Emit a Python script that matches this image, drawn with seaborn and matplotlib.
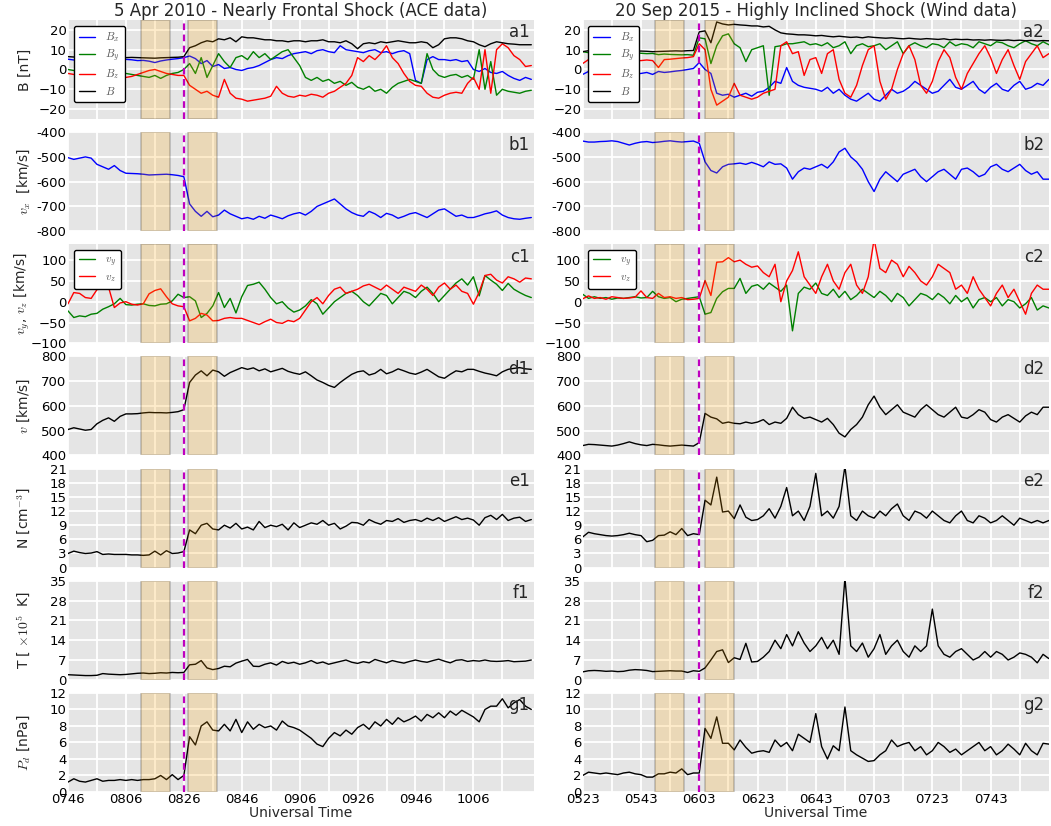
import numpy as np
import pandas as pd
import matplotlib
matplotlib.use('Agg')
import matplotlib.pyplot as plt
import seaborn as sns

# minutes after the start of each window (2-min samples)
minutes = np.arange(0, 161, 2)

left_ticklabels = ['0746', '0806', '0826', '0846', '0906', '0926', '0946', '1006']
right_ticklabels = ['0523', '0543', '0603', '0623', '0643', '0703', '0723', '0743']

# ---------------- 5 Apr 2010 (ACE) ----------------
bx_L = [5.2, 4.8, 5.0, 5.3, 5.1, 4.9, 5.0, 5.2, 5.0, 4.8,
        5.1, 4.9, 4.5, 4.6, 4.2, 3.5, 4.3, 4.8, 5.2, 5.5,
        6.0, 6.8, 5.5, 3.0, 4.5, 1.5, 2.5, 0.5, 1.0, 0.0,
        -0.5, 0.5, 1.0, 2.0, 3.5, 5.0, 6.0, 5.5, 7.0, 8.0,
        8.5, 9.0, 8.0, 9.5, 10.0, 9.0, 8.5, 12.0, 10.0, 9.5,
        9.0, 8.5, 9.5, 10.0, 8.5, 9.0, 8.0, 9.0, 9.5, 8.0,
        -5.5, -7.0, 5.0, 6.5, 5.0, 5.0, 4.5, 5.0, 4.0, 4.5,
        0.0, -1.0, 0.5, -1.5, -2.0, -1.0, -3.0, -4.5, -5.5, -4.0,
        -5.0]
by_L = [0.0, -0.5, -1.0, -1.5, -1.0, -2.0, -1.5, -2.0, -2.0, -2.5,
        -2.0, -2.5, -3.0, -3.5, -4.0, -3.0, -4.5, -3.0, -2.0, -1.5,
        0.0, 3.0, -2.0, 6.0, -4.0, 2.0, 8.0, 4.0, 1.0, 6.0,
        7.0, 5.0, 9.0, 6.0, 8.0, 5.0, 7.0, 9.0, 10.0, 6.0,
        2.0, -4.0, -5.5, -4.0, -6.0, -5.0, -7.0, -6.0, -8.0, -6.5,
        -9.0, -10.0, -8.5, -11.0, -10.0, -12.0, -9.0, -7.0, -6.0, -5.0,
        -6.0, -7.0, 8.0, 0.0, -3.0, -4.0, -3.0, -2.5, -4.0, -3.0,
        -5.0, 10.0, -10.0, 4.0, -13.0, -10.0, -11.0, -11.5, -12.0, -11.0,
        -10.5]
bz_L = [-2.0, -2.5, -3.0, -3.0, -3.5, -3.0, -3.5, -4.0, -3.5, -4.0,
        -4.0, -3.5, -2.5, -1.5, -0.5, 0.0, -1.0, -2.0, -2.5, -3.0,
        -3.0, -8.0, -10.0, -12.0, -11.0, -13.0, -14.0, -5.0, -12.0, -14.5,
        -15.0, -16.0, -15.5, -15.0, -14.5, -13.5, -8.5, -12.0, -13.5, -14.0,
        -13.0, -13.5, -12.5, -13.0, -14.0, -12.0, -11.0, -9.0, -7.0, -3.0,
        6.0, 4.0, 7.0, 5.0, 8.0, 12.0, 6.0, 3.0, -2.0, -6.0,
        -8.0, -8.5, -12.0, -14.0, -14.5, -13.0, -12.0, -11.5, -12.0, -7.0,
        -4.0, -10.0, 10.0, -12.0, 10.0, 13.0, 11.0, 7.0, 5.0, 1.5,
        2.0]
b_L = [6.5, 6.3, 6.4, 6.2, 6.3, 6.1, 6.2, 6.0, 6.1, 6.2,
       6.0, 6.1, 6.0, 5.9, 5.8, 5.7, 5.9, 6.0, 6.1, 6.2,
       6.5, 11.0, 12.0, 13.5, 14.5, 14.0, 15.5, 15.0, 16.0, 14.0,
       16.5, 16.0, 16.0, 15.5, 15.0, 15.0, 14.5, 14.5, 14.0, 14.5,
       14.5, 14.0, 14.5, 14.5, 15.0, 14.0, 14.0, 13.5, 14.5, 13.0,
       10.5, 13.0, 13.5, 13.0, 14.0, 13.5, 14.0, 14.5, 14.0, 13.5,
       13.5, 14.0, 13.5, 11.0, 12.5, 15.5, 16.0, 16.0, 15.5, 14.5,
       14.0, 12.5, 11.5, 13.0, 14.0, 13.5, 13.0, 12.8, 12.5, 12.5,
       12.5]

vx_L = [-503, -510, -505, -500, -505, -530, -540, -550, -535, -555,
        -566, -567, -568, -570, -573, -572, -571, -570, -572, -575,
        -580, -690, -720, -740, -720, -742, -735, -715, -730, -740,
        -750, -745, -752, -740, -748, -735, -742, -750, -738, -730,
        -725, -735, -720, -700, -690, -680, -670, -690, -710, -725,
        -735, -740, -720, -730, -745, -728, -735, -748, -740, -730,
        -725, -735, -745, -730, -715, -710, -725, -740, -735, -745,
        -745, -738, -730, -725, -718, -735, -745, -750, -752, -748,
        -745]
vy_L = [-22, -38, -34, -36, -30, -28, -18, -12, -5, 8,
        -7, -8, -6, -5, -9, -10, -6, -5, 2, 18,
        10, 12, 2, -38, -28, -10, 22, -14, 8, -27,
        12, 39, 42, 47, 30, 10, -5, 0, -15, -25,
        -20, -10, 5, -5, -30, -15, 0, 10, 20, 25,
        15, 0, -10, 5, 20, 15, -5, 10, 25, 20,
        10, 25, 35, 20, 0, 15, 30, 45, 55, 40,
        60, 14, 63, 52, 42, 27, 44, 30, 22, 15,
        10]
vz_L = [-5, 22, 20, 10, 8, 29, 32, 35, -14, -3,
        0, -6, -8, -5, 19, 27, 31, 12, -5, -10,
        -12, -46, -40, -28, -32, -46, -45, -40, -38, -40,
        -40, -45, -50, -55, -48, -42, -50, -52, -45, -48,
        -40, -20, 0, 10, -5, 15, 30, 35, 20, 25,
        30, 38, 42, 35, 28, 40, 30, 20, 35, 30,
        25, 40, 30, 15, 35, 45, 30, 40, 25, 20,
        -6, 23, 63, 66, 52, 45, 60, 55, 47, 57,
        55]
v_L = [505, 512, 507, 502, 505, 528, 542, 552, 538, 558,
       568, 568, 569, 572, 574, 573, 573, 572, 574, 577,
       585, 695, 725, 742, 722, 745, 738, 720, 735, 745,
       755, 748, 754, 742, 750, 738, 745, 752, 740, 733,
       728, 738, 722, 705, 695, 683, 675, 695, 712, 728,
       738, 742, 725, 732, 748, 730, 738, 750, 742, 733,
       728, 737, 748, 733, 718, 712, 728, 742, 738, 748,
       748, 740, 733, 728, 722, 738, 748, 752, 755, 750,
       748]
n_L = [3.0, 3.5, 3.2, 3.0, 3.1, 3.4, 2.8, 2.9, 2.8, 2.8,
       2.8, 2.7, 2.7, 2.6, 2.7, 3.5, 2.7, 3.6, 3.0, 3.1,
       3.4, 8.0, 7.2, 9.0, 9.4, 8.2, 8.0, 9.0, 8.4, 9.4,
       8.2, 8.6, 8.0, 9.8, 8.5, 9.0, 8.7, 9.2, 8.0, 9.5,
       8.5, 9.0, 9.5, 9.2, 10.0, 9.0, 9.4, 8.2, 8.8, 9.6,
       9.5, 9.0, 10.2, 9.6, 9.2, 10.0, 9.8, 10.4, 9.6, 10.0,
       10.2, 9.8, 10.5, 10.0, 10.6, 9.8, 10.3, 10.8, 10.2, 10.5,
       10.1, 9.0, 10.6, 11.1, 10.2, 11.3, 10.0, 10.5, 10.7, 9.8,
       10.2]
temp_L = [1.8, 1.7, 1.6, 1.5, 1.5, 1.6, 2.2, 2.0, 1.9, 1.8,
          1.9, 2.1, 2.3, 2.4, 2.2, 2.3, 2.5, 2.4, 2.6, 2.5,
          2.6, 5.3, 5.5, 6.8, 4.2, 3.6, 4.0, 4.8, 4.6, 5.9,
          6.6, 7.2, 4.8, 4.7, 5.5, 6.0, 5.2, 6.5, 5.8, 6.2,
          5.5, 6.0, 6.8, 5.8, 6.3, 5.5, 6.0, 6.5, 7.0, 6.2,
          5.8, 6.4, 6.0, 7.2, 6.6, 6.0, 6.8, 6.3, 5.9, 6.5,
          7.0, 6.5, 6.2, 6.8, 7.3, 6.6, 6.0, 6.9, 7.1, 6.5,
          6.8, 6.6, 7.0, 6.6, 6.5, 6.6, 6.8, 6.4, 6.5, 6.6,
          7.0]
pd_L = [1.2, 1.6, 1.3, 1.2, 1.4, 1.6, 1.3, 1.4, 1.4, 1.5,
        1.4, 1.5, 1.4, 1.5, 1.5, 1.6, 2.0, 1.5, 2.1, 1.5,
        2.0, 6.7, 5.7, 8.0, 8.5, 7.5, 7.4, 8.2, 7.4, 8.8,
        7.2, 8.5, 7.6, 8.2, 7.8, 8.0, 7.5, 8.6, 8.0, 7.8,
        7.5, 7.0, 6.5, 5.8, 5.5, 6.5, 7.2, 6.8, 7.5, 7.0,
        7.8, 8.2, 7.6, 8.5, 8.0, 8.8, 8.2, 9.0, 8.5, 8.8,
        9.2, 8.6, 9.4, 9.0, 9.6, 9.0, 9.8, 9.3, 9.9, 9.5,
        9.1, 8.5, 10.0, 10.4, 10.4, 11.3, 10.2, 10.8, 11.2, 10.4,
        10.0]

# ---------------- 20 Sep 2015 (Wind) ----------------
bx_R = [-2.5, -1.0, -2.0, -1.5, -2.0, -2.5, -1.5, -2.0, -1.8, -2.2,
        -2.0, -1.5, -2.5, -1.0, -1.5, -1.2, -0.8, -0.5, 0.0, 0.5,
        3.5, 0.0, -2.0, -12.0, -13.0, -12.5, -14.0, -13.0, -12.0, -13.5,
        -11.5, -11.0, -9.0, -6.0, -7.0, 1.0, -6.0, -8.0, -9.0, -9.5,
        -10.0, -11.0, -9.0, -12.0, -10.0, -13.0, -15.0, -16.0, -14.0, -12.0,
        -15.0, -16.0, -13.0, -10.0, -12.0, -11.0, -9.0, -6.0, -8.0, -10.0,
        -12.0, -11.0, -8.0, -5.0, -9.0, -10.0, -8.0, -6.0, -10.0, -12.0,
        -9.0, -7.0, -10.0, -11.0, -8.0, -6.0, -10.0, -9.0, -7.0, -8.0,
        -5.0]
by_R = [9.0, 8.5, 8.8, 8.5, 8.7, 8.6, 8.4, 8.5, 8.3, 8.4,
        8.2, 8.0, 8.1, 7.5, 7.8, 7.6, 7.5, 7.4, 7.5, 7.2,
        16.0, 15.5, 3.0, 12.0, 17.0, 18.0, 13.0, 11.0, 4.0, 10.0,
        11.0, 12.0, -13.0, 11.5, 12.0, 13.0, 13.0, 13.5, 14.0, 12.5,
        13.0, 12.0, 13.5, 11.0, 12.0, 14.0, 8.0, 12.0, 13.0, 11.5,
        12.0, 13.0, 10.0, 12.0, 14.0, 8.0, 12.0, 13.5, 12.0, 11.0,
        13.0, 12.5, 11.0, 14.0, 12.0, 13.0, 12.5, 11.0, 14.0, 13.0,
        12.0, 14.0, 13.5, 12.0, 11.0, 13.0, 14.5, 13.0, 12.0, 14.0,
        12.5]
bz_R = [3.0, 5.0, 4.0, 4.5, 3.5, 4.0, 3.8, 4.2, 4.0, 4.5,
        4.5, 4.8, 4.5, 1.0, 5.0, 5.2, 5.5, 5.8, 6.0, 6.5,
        13.0, 10.0, -10.0, -18.0, -16.0, -14.0, -7.0, -13.0, -14.0, -15.0,
        -14.0, -12.0, -11.0, -10.0, 12.0, 14.0, 8.0, 9.0, -3.0, 5.0,
        6.0, -2.0, 8.0, 10.0, -5.0, -12.0, -14.0, -8.0, 2.0, 10.0,
        12.0, -6.0, -15.0, -10.0, 0.0, 8.0, 12.0, 5.0, -8.0, -12.0,
        -6.0, 4.0, 10.0, 6.0, -4.0, -10.0, -2.0, 3.0, 8.0, 12.0,
        6.0, -2.0, 5.0, 10.0, 2.0, -5.0, 4.0, 8.0, 12.0, 6.0,
        8.0]
b_R = [9.0, 9.5, 9.3, 9.4, 9.2, 9.3, 9.5, 9.4, 9.3, 9.2,
       9.3, 9.2, 9.0, 9.1, 9.2, 9.3, 9.4, 9.3, 9.5, 9.6,
       19.0, 19.5, 13.5, 24.0, 23.0, 22.5, 22.8, 22.5, 22.3, 22.0,
       22.0, 21.5, 21.8, 20.0, 18.5, 18.0, 17.8, 17.5, 17.5, 17.3,
       17.0, 17.2, 16.8, 16.5, 16.8, 16.5, 16.2, 16.4, 16.0, 16.5,
       16.2, 16.0, 15.8, 16.0, 15.7, 15.5, 15.8, 15.5, 15.3, 15.6,
       15.4, 15.2, 15.5, 15.0, 15.3, 15.1, 15.2, 14.9, 15.0, 14.8,
       15.0, 14.8, 14.7, 14.9, 14.6, 14.8, 14.5, 14.7, 14.4, 14.6,
       14.5]

vx_R = [-436, -440, -440, -438, -437, -435, -438, -445, -452, -445,
        -440, -438, -442, -440, -437, -435, -438, -440, -438, -436,
        -445, -520, -555, -565, -540, -530, -528, -525, -530, -522,
        -530, -540, -520, -530, -528, -545, -590, -560, -545, -550,
        -540, -530, -545, -520, -480, -465, -500, -520, -550, -600,
        -640, -590, -560, -580, -600, -570, -560, -550, -580, -600,
        -580, -560, -550, -570, -590, -550, -545, -560, -580, -570,
        -540, -530, -550, -560, -545, -530, -555, -570, -560, -590,
        -590]
vy_R = [18, 8, 12, 8, 10, 6, 9, 8, 10, 12,
        9, 10, 25, 12, 8, 10, 0, 6, 8, 10,
        12, -30, -26, 8, 24, 32, 32, 56, 20, 37,
        41, 30, 45, 35, 25, 40, -70, 20, 35, 30,
        45, 20, 15, 30, 10, 25, 5, 15, 30, 20,
        10, 25, 15, 0, 20, 10, -10, 5, 20, 15,
        5, 20, 10, -5, 15, 0, 10, -15, 5, 10,
        0, 10, -10, 5, 0, -15, -5, 10, -20, -10,
        -15]
vz_R = [7, 14, 8, 10, 6, 12, 10, 8, 9, 11,
        26, 10, 8, 20, 10, 12, 8, 10, 5, 6,
        8, 51, 15, 95, 96, 106, 96, 100, 90, 83,
        86, 70, 60, 90, 0, 50, 75, 120, 60, 40,
        20, 60, 90, 50, 30, 70, 90, 40, 20, 60,
        150, 80, 70, 100, 90, 60, 85, 70, 50, 40,
        60, 90, 80, 70, 30, 40, 20, 60, 30, 10,
        -10, 20, 40, 10, 30, 0, -30, 20, 40, 30,
        30]
v_R = [440, 445, 444, 442, 440, 438, 442, 448, 455, 448,
       443, 440, 445, 443, 440, 438, 440, 442, 440, 438,
       452, 570, 555, 548, 530, 535, 530, 528, 535, 530,
       535, 545, 525, 535, 530, 550, 595, 565, 550, 555,
       545, 535, 550, 525, 490, 475, 505, 525, 555, 605,
       640, 595, 565, 585, 605, 575, 565, 555, 585, 605,
       585, 565, 555, 575, 595, 555, 550, 565, 585, 575,
       545, 535, 555, 565, 550, 535, 560, 575, 565, 595,
       595]
n_R = [6.5, 7.5, 7.2, 7.0, 6.8, 6.7, 6.8, 7.0, 7.3, 7.0,
       6.8, 5.5, 5.8, 6.8, 6.9, 7.6, 7.0, 8.3, 6.8, 7.2,
       7.0, 14.3, 13.3, 19.2, 11.8, 12.0, 10.4, 13.3, 10.7, 10.0,
       10.2, 11.0, 12.5, 10.5, 13.0, 17.0, 11.0, 12.0, 10.0, 13.0,
       20.0, 11.0, 12.0, 10.5, 13.0, 21.5, 11.0, 10.0, 12.0, 11.0,
       10.5, 12.0, 11.0, 12.5, 13.5, 11.0, 10.0, 12.0, 11.5, 10.5,
       12.0, 11.0, 10.0, 9.5, 11.0, 12.0, 10.0, 9.5, 11.0, 10.5,
       9.5, 10.0, 11.0, 10.0, 9.0, 10.5, 10.0, 9.5, 10.0, 9.5,
       10.0]
temp_R = [2.8, 3.2, 3.3, 3.2, 3.0, 3.1, 2.9, 3.0, 3.4, 3.6,
          3.5, 3.3, 2.9, 3.0, 3.1, 3.2, 3.1, 3.1, 2.6, 3.2,
          3.0, 4.2, 7.0, 10.0, 10.6, 6.1, 7.8, 7.2, 12.9, 6.3,
          6.5, 8.0, 10.0, 14.0, 11.0, 16.0, 12.0, 17.0, 13.0, 10.0,
          12.0, 15.0, 11.0, 14.0, 9.0, 36.0, 12.0, 10.0, 13.0, 8.0,
          11.0, 16.0, 9.0, 12.0, 14.0, 10.0, 8.0, 12.0, 10.0, 12.0,
          25.0, 12.0, 9.0, 8.0, 10.0, 11.0, 9.0, 7.0, 8.0, 10.0,
          8.0, 10.0, 9.0, 7.0, 8.0, 9.5, 9.0, 8.0, 6.0, 9.0,
          7.5]
pd_R = [2.0, 2.4, 2.3, 2.2, 2.3, 2.2, 2.1, 2.3, 2.4, 2.2,
        2.1, 1.8, 1.8, 2.2, 2.2, 2.4, 2.3, 2.8, 2.1, 2.3,
        2.3, 7.7, 6.5, 9.1, 5.9, 5.9, 5.1, 6.3, 5.4, 4.7,
        4.9, 5.0, 4.8, 6.3, 5.5, 6.0, 5.0, 7.0, 6.5, 6.0,
        9.5, 5.5, 4.0, 5.6, 5.0, 10.3, 5.0, 4.5, 4.1, 3.7,
        3.8, 4.5, 5.0, 6.3, 5.5, 5.8, 6.0, 5.0, 5.5, 4.5,
        5.0, 6.0, 5.5, 4.8, 5.2, 4.5, 5.0, 5.5, 6.0, 5.0,
        5.5, 4.5, 5.0, 5.8, 5.2, 4.5, 5.9, 5.0, 4.5, 5.9,
        5.8]

df_L = pd.DataFrame({'t': minutes, 'Bx': bx_L, 'By': by_L, 'Bz': bz_L, 'B': b_L,
                     'vx': vx_L, 'vy': vy_L, 'vz': vz_L, 'v': v_L,
                     'N': n_L, 'T': temp_L, 'Pd': pd_L})
df_R = pd.DataFrame({'t': minutes, 'Bx': bx_R, 'By': by_R, 'Bz': bz_R, 'B': b_R,
                     'vx': vx_R, 'vy': vy_R, 'vz': vz_R, 'v': v_R,
                     'N': n_R, 'T': temp_R, 'Pd': pd_R})

events = [
    dict(df=df_L, title='5 Apr 2010 - Nearly Frontal Shock (ACE data)',
         bands=[(25.2, 35.2), (41.3, 51.3)], shock=40.1, xmax=161,
         ticklabels=left_ticklabels, tag='1'),
    dict(df=df_R, title='20 Sep 2015 - Highly Inclined Shock (Wind data)',
         bands=[(24.7, 34.7), (42.0, 52.0)], shock=40.0, xmax=160,
         ticklabels=right_ticklabels, tag='2'),
]

BLUE, GREEN, RED, BLACK = '#0000FF', '#008000', '#FF0000', '#000000'

panels = [
    ('a', [('Bx', BLUE, '$B_x$'), ('By', GREEN, '$B_y$'), ('Bz', RED, '$B_z$'), ('B', BLACK, '$B$')],
     (-25, 25), [-20, -10, 0, 10, 20], None, 'B [nT]'),
    ('b', [('vx', BLUE, None)], (-800, -400), [-800, -700, -600, -500, -400],
     ['-800', '-700', '-600', '-500', '-400'], r'$v_x$  [km/s]'),
    ('c', [('vy', GREEN, '$v_y$'), ('vz', RED, '$v_z$')], (-100, 138),
     [-100, -50, 0, 50, 100], None, r'$v_y$, $v_z$ [km/s]'),
    ('d', [('v', BLACK, None)], (400, 800), [400, 500, 600, 700, 800], None, r'$v$ [km/s]'),
    ('e', [('N', BLACK, None)], (0, 21), [0, 3, 6, 9, 12, 15, 18, 21], None, r'N [cm$^{-3}$]'),
    ('f', [('T', BLACK, None)], (0, 35), [0, 7, 14, 21, 28, 35], None, r'T [ $\times 10^5$  K]'),
    ('g', [('Pd', BLACK, None)], (0, 12), [0, 2, 4, 6, 8, 10, 12], None, r'$P_d$ [nPa]'),
]

sns.set_theme(style='darkgrid', color_codes=False, rc={
    'axes.facecolor': '#E5E5E5',
    'grid.color': 'white',
    'grid.linewidth': 1.3,
    'xtick.labelsize': 9.5,
    'ytick.labelsize': 9.5,
    'xtick.color': 'black',
    'ytick.color': 'black',
})
plt.rcParams['font.family'] = ['DejaVu Sans']
plt.rcParams['mathtext.fontset'] = 'cm'

fig = plt.figure(figsize=(10.51, 8.26), dpi=100)
gs = fig.add_gridspec(7, 2, left=0.0647, right=0.998, top=0.9758, bottom=0.0412,
                      wspace=0.104, hspace=0.133)

for col, ev in enumerate(events):
    for row, (letter, series, ylim, yticks, ytl, ylabel) in enumerate(panels):
        ax = fig.add_subplot(gs[row, col])
        for key, color, lab in series:
            sns.lineplot(data=ev['df'], x='t', y=key, ax=ax, color=color,
                         linewidth=1.0, label=lab)
        for x0, x1 in ev['bands']:
            ax.axvspan(x0, x1, facecolor='orange', edgecolor='k', alpha=0.2, lw=1.2, zorder=3)
        ax.axvline(ev['shock'], color='#BF00BF', ls=(0, (3, 2)), lw=1.6, zorder=4)

        ax.set_xlim(0, ev['xmax'])
        ax.set_ylim(*ylim)
        ax.set_yticks(yticks)
        if ytl is not None:
            ax.set_yticklabels(ytl)
        ax.set_xticks(np.arange(0, 141, 20))
        ax.set_xticks(np.arange(10, 161, 20), minor=True)
        ax.grid(which='minor', axis='x', color='white', lw=1.3)
        ax.tick_params(length=0, pad=1)
        if row == len(panels) - 1:
            ax.set_xticklabels(ev['ticklabels'])
            ax.set_xlabel('Universal Time', fontsize=10, labelpad=0)
        else:
            ax.set_xticklabels([])
            ax.set_xlabel('')
        if col == 0:
            ax.set_ylabel(ylabel, fontsize=10)
            ax.yaxis.set_label_coords(-0.077, 0.5)
        else:
            ax.set_ylabel('')
        for s in ax.spines.values():
            s.set_visible(False)

        leg = ax.get_legend()
        if leg is not None:
            leg.remove()
        if letter in ('a', 'c'):
            lg = ax.legend(loc='upper left', fontsize=8, handlelength=1.5,
                           handletextpad=0.9, labelspacing=0.3, borderpad=0.45,
                           frameon=True, framealpha=1.0, fancybox=True)
            lg.get_frame().set_edgecolor('black')
            lg.get_frame().set_facecolor('white')
            lg.set_zorder(10)
            for txt in lg.get_texts():
                txt.set_color('#555555')

        ax.text(0.99, 0.965, letter + ev['tag'], transform=ax.transAxes,
                ha='right', va='top', fontsize=12, zorder=6)
        if row == 0:
            ax.set_title(ev['title'], fontsize=12, pad=3)

fig.savefig('out.png', dpi=100)
